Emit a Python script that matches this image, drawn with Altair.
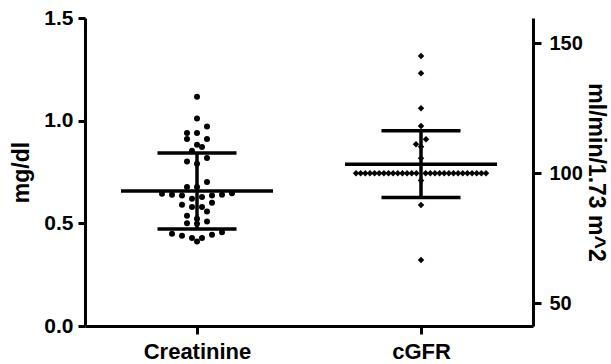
import altair as alt
import pandas as pd

# ---- data ----
categories = ["Creatinine", "cGFR"]

creatinine = [1.116, 1.010, 0.972, 0.940, 0.940, 0.911, 0.911, 0.883, 0.872, 0.854,
              0.818, 0.801, 0.790, 0.701, 0.677, 0.677, 0.647, 0.644, 0.639, 0.639,
              0.636, 0.636, 0.628, 0.620, 0.600, 0.590, 0.579, 0.579, 0.558, 0.537,
              0.522, 0.509, 0.501, 0.498, 0.457, 0.449, 0.444, 0.440, 0.428, 0.428,
              0.411]

cgfr = [145.1, 138.5, 125.0, 118.2, 113.1, 111.2, 110.2, 105.8,
        100, 100, 100, 100, 100, 100, 100, 100, 100, 100,
        100, 100, 100, 100, 100, 100, 100, 100, 100, 100,
        100, 100, 100, 100, 100, 100, 100, 100,
        97.2, 87.8, 66.7]

means = [0.658, 103.5]
sds = [0.185, 12.85]

left_ticks = [0.0, 0.5, 1.0, 1.5]
right_ticks = [50, 100, 150]

# ---- layout constants ----
W, H = 448, 308
LEFT_DOMAIN = [0, 1.5]
RIGHT_DOMAIN = [41.3, 159.7]
X_DOMAIN = [0, 2]
PX_PER_X = W / (X_DOMAIN[1] - X_DOMAIN[0])
FONT = "Liberation Sans"


def swarm(values, px_per_unit, step_px=10.0, max_half_px=65.0, row_px=7.5):
    """Simple row-based beeswarm: group close values into rows, spread each row."""
    order = sorted(range(len(values)), key=lambda i: -values[i])
    offsets = [0.0] * len(values)
    i = 0
    while i < len(order):
        start = values[order[i]]
        row = [order[i]]
        j = i + 1
        while j < len(order) and (start - values[order[j]]) * px_per_unit < row_px:
            row.append(order[j])
            j += 1
        k = len(row)
        step = step_px if k == 1 else min(step_px, 2 * max_half_px / (k - 1))
        slots = [(r - (k - 1) / 2) * step for r in range(k)]
        slots.sort(key=lambda o: (abs(o), o))
        row_sorted = sorted(row, key=lambda idx: values[idx])
        for idx, off in zip(row_sorted, slots):
            offsets[idx] = off
        i = j
    return offsets


def points_df(values, center, domain):
    ppu = H / (domain[1] - domain[0])
    offs = swarm(values, ppu)
    return pd.DataFrame({"x": [center + o / PX_PER_X for o in offs], "v": values})


centers = [0.5, 1.5]
MEAN_HALF = 76 / PX_PER_X
CAP_HALF = 39.5 / PX_PER_X


def stats_df(k):
    c = centers[k]
    return pd.DataFrame({
        "xc": [c], "xl": [c - MEAN_HALF], "xr": [c + MEAN_HALF],
        "cl": [c - CAP_HALF], "cr": [c + CAP_HALF],
        "mean": [means[k]], "lo": [means[k] - sds[k]], "hi": [means[k] + sds[k]],
    })


label_expr = f"datum.value < 1 ? '{categories[0]}' : '{categories[1]}'"
x_axis = alt.Axis(values=centers, labelExpr=label_expr, title=None, grid=False,
                  tickSize=8, labelPadding=7, labelFontSize=22)


def xenc(field):
    return alt.X(f"{field}:Q", scale=alt.Scale(domain=X_DOMAIN, nice=False, zero=False), axis=x_axis)


def build(k, domain, axis, shape, size):
    pts = points_df(creatinine if k == 0 else cgfr, centers[k], domain)
    st = stats_df(k)
    yscale = alt.Scale(domain=domain, nice=False, zero=False)
    p = alt.Chart(pts).mark_point(shape=shape, filled=True, size=size, color="black", opacity=1).encode(
        x=xenc("x"), y=alt.Y("v:Q", scale=yscale, axis=axis))
    base = alt.Chart(st)
    mean_rule = base.mark_rule(color="black", strokeWidth=3.5).encode(
        x=xenc("xl"), x2="xr", y=alt.Y("mean:Q", scale=yscale, axis=axis))
    hi_rule = base.mark_rule(color="black", strokeWidth=3.5).encode(
        x=xenc("cl"), x2="cr", y=alt.Y("hi:Q", scale=yscale, axis=axis))
    lo_rule = base.mark_rule(color="black", strokeWidth=3.5).encode(
        x=xenc("cl"), x2="cr", y=alt.Y("lo:Q", scale=yscale, axis=axis))
    vert = base.mark_rule(color="black", strokeWidth=3.5).encode(
        x=xenc("xc"), y=alt.Y("lo:Q", scale=yscale, axis=axis), y2="hi")
    return alt.layer(p, mean_rule, hi_rule, lo_rule, vert)


left_axis = alt.Axis(orient="left", values=left_ticks, format=".1f", title="mg/dl",
                     titleX=-52, grid=False, tickSize=7, labelPadding=5)
right_axis = alt.Axis(orient="right", values=right_ticks, title="ml/min/1.73 m^2",
                      titleX=50, grid=False, tickSize=8, labelPadding=8, labelFontSize=20)

left = build(0, LEFT_DOMAIN, left_axis, "circle", 36)
right = build(1, RIGHT_DOMAIN, right_axis, "diamond", 42)

chart = alt.layer(left, right).resolve_scale(y="independent").properties(
    width=W, height=H,
    autosize=alt.AutoSizeParams(type="none"),
    padding={"left": 85, "top": 18, "right": 611 - 85 - W, "bottom": 364 - 18 - H},
    background="white",
).configure_view(stroke=None).configure_axis(
    domainColor="black", domainWidth=3, tickColor="black", tickWidth=3,
    labelFont=FONT, labelFontWeight="bold", labelFontSize=21, labelColor="black",
    titleFont=FONT, titleFontWeight="bold", titleFontSize=23, titleColor="black",
)

chart.save("out.html", embed_options={"renderer": "svg", "actions": False})
